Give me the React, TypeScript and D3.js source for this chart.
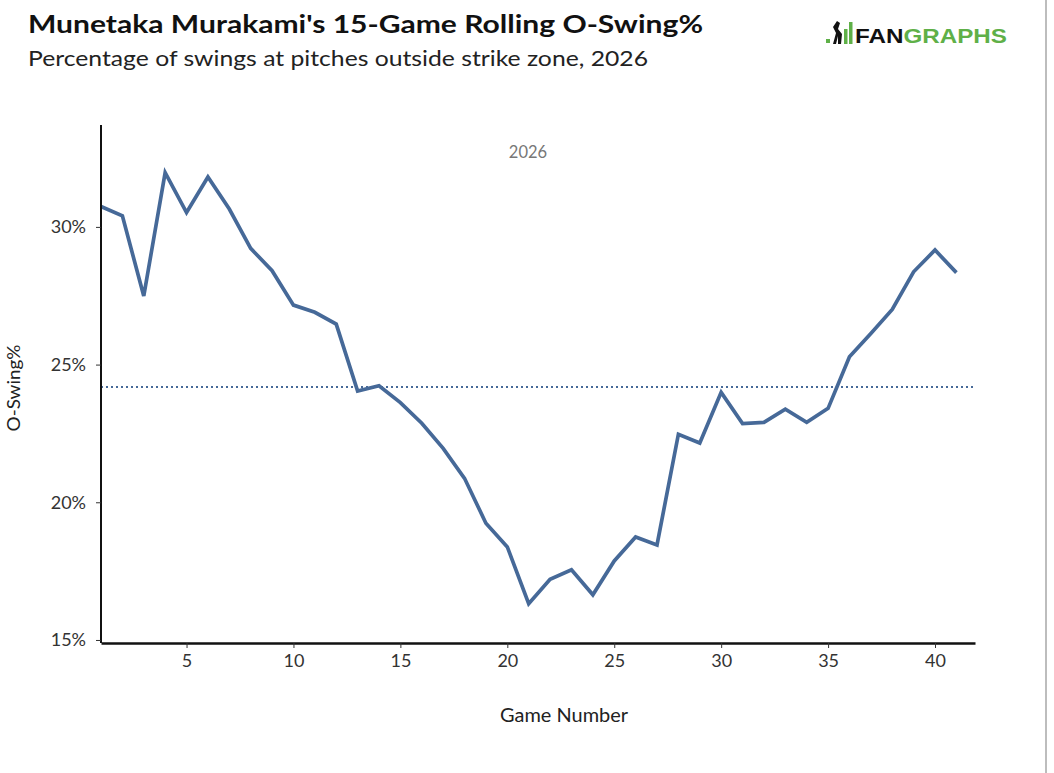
import React, { useRef, useEffect } from 'react';
import * as d3 from 'd3';

// game-by-game rolling O-Swing%
const games = [1, 2, 3, 4, 5, 6, 7, 8, 9, 10, 11, 12, 13, 14, 15, 16, 17, 18, 19, 20, 21,
  22, 23, 24, 25, 26, 27, 28, 29, 30, 31, 32, 33, 34, 35, 36, 37, 38, 39, 40, 41];
const oSwing = [30.74, 30.40, 27.49, 31.97, 30.52, 31.81, 30.65, 29.22, 28.41, 27.16, 26.90,
  26.47, 24.04, 24.23, 23.62, 22.87, 21.96, 20.87, 19.24, 18.38, 16.32, 17.20, 17.55, 16.64,
  17.87, 18.74, 18.45, 22.47, 22.15, 23.99, 22.86, 22.90, 23.38, 22.90, 23.41, 25.28, 26.13,
  27.00, 28.37, 29.16, 28.34];
const seasonAvg = 24.19;
const xTicks = [5, 10, 15, 20, 25, 30, 35, 40];
const yTicks = [15, 20, 25, 30];

const W = 1054;
const H = 773;
const lineColor = '#466998';
const font = 'Lato, sans-serif';

function App() {
  const svgRef = useRef(null);

  useEffect(() => {
    const svg = d3.select(svgRef.current);
    svg.selectAll('*').remove();

    const x = d3.scaleLinear().domain([1, 41.87]).range([101, 975]);
    const y = d3.scaleLinear().domain([14.89, 33.7]).range([643, 125]);

    // titles
    svg.append('text')
      .attr('x', 28).attr('y', 33)
      .attr('textLength', 675).attr('lengthAdjust', 'spacingAndGlyphs')
      .style('font-family', font).style('font-weight', 700).style('font-size', '25px')
      .attr('fill', '#111')
      .text("Munetaka Murakami's 15-Game Rolling O-Swing%");
    svg.append('text')
      .attr('x', 28).attr('y', 66)
      .attr('textLength', 620).attr('lengthAdjust', 'spacingAndGlyphs')
      .style('font-family', font).style('font-size', '21.5px')
      .attr('fill', '#222')
      .text('Percentage of swings at pitches outside strike zone, 2026');

    // logo
    const logo = svg.append('g');
    logo.append('rect').attr('x', 826).attr('y', 39).attr('width', 4).attr('height', 4).attr('fill', '#5fb048');
    logo.append('path')
      .attr('d', 'M833,44 L836,33 L833,27 L837,21 L840,23 L838,29 L842,34 L841,44 L838,44 L838,36 L836,44 Z')
      .attr('fill', '#111');
    logo.append('rect').attr('x', 844).attr('y', 29).attr('width', 3.5).attr('height', 15).attr('fill', '#5fb048');
    logo.append('rect').attr('x', 849).attr('y', 22).attr('width', 3.5).attr('height', 22).attr('fill', '#5fb048');
    const lt = logo.append('text')
      .attr('x', 855).attr('y', 43)
      .attr('textLength', 152).attr('lengthAdjust', 'spacingAndGlyphs')
      .style('font-family', '"Liberation Sans", Arial, sans-serif').style('font-weight', 700)
      .style('font-size', '20px');
    lt.append('tspan').attr('fill', '#111').text('FAN');
    lt.append('tspan').attr('fill', '#5fb048').text('GRAPHS');

    // right border
    svg.append('line')
      .attr('x1', 1046).attr('x2', 1046).attr('y1', 0).attr('y2', H)
      .attr('stroke', '#bdbdbd').attr('stroke-width', 2);

    // facet label
    svg.append('text')
      .attr('x', 528).attr('y', 158)
      .attr('text-anchor', 'middle')
      .style('font-family', font).style('font-size', '16.5px')
      .attr('fill', '#777')
      .text('2026');

    // average line
    svg.append('line')
      .attr('x1', x(1)).attr('x2', x(41.87))
      .attr('y1', y(seasonAvg)).attr('y2', y(seasonAvg))
      .attr('stroke', lineColor).attr('stroke-width', 2)
      .attr('stroke-dasharray', '2,3');

    // series
    const line = d3.line<number>()
      .x((d, i) => x(games[i]))
      .y(d => y(d));
    svg.append('path')
      .datum(oSwing)
      .attr('d', line)
      .attr('fill', 'none')
      .attr('stroke', lineColor)
      .attr('stroke-width', 3.7)
      .attr('stroke-linejoin', 'miter');

    // axes
    const xAxis = svg.append('g')
      .attr('transform', 'translate(0,643)')
      .call(d3.axisBottom(x).tickValues(xTicks).tickSize(5).tickPadding(6).tickSizeOuter(0));
    const yAxis = svg.append('g')
      .attr('transform', 'translate(101,0)')
      .call(d3.axisLeft(y).tickValues(yTicks).tickSize(5).tickPadding(10).tickSizeOuter(0)
        .tickFormat(d => `${d}%`));
    [xAxis, yAxis].forEach(a => {
      a.select('.domain').attr('stroke', '#111').attr('stroke-width', 2);
      a.selectAll('.tick line').attr('stroke', '#333').attr('stroke-width', 1);
      a.selectAll('.tick text')
        .style('font-family', font).style('font-size', '18px').attr('fill', '#333');
    });
    xAxis.select('.domain').attr('stroke-width', 2.5);
    yAxis.select('.domain').attr('d', `M0,${y(33.7)}V${y(14.89)}`);

    svg.append('text')
      .attr('x', 564).attr('y', 722)
      .attr('text-anchor', 'middle')
      .attr('textLength', 128).attr('lengthAdjust', 'spacingAndGlyphs')
      .style('font-family', font).style('font-size', '18.5px')
      .attr('fill', '#222')
      .text('Game Number');
    svg.append('text')
      .attr('transform', 'translate(20,388) rotate(-90)')
      .attr('text-anchor', 'middle')
      .attr('textLength', 87).attr('lengthAdjust', 'spacingAndGlyphs')
      .style('font-family', font).style('font-size', '17.5px')
      .attr('fill', '#222')
      .text('O-Swing%');
  }, []);

  return (
    <svg ref={svgRef} width={W} height={H}
      style={{ position: 'absolute', left: 0, top: 0, background: '#fff' }} />
  );
}

export default App;
